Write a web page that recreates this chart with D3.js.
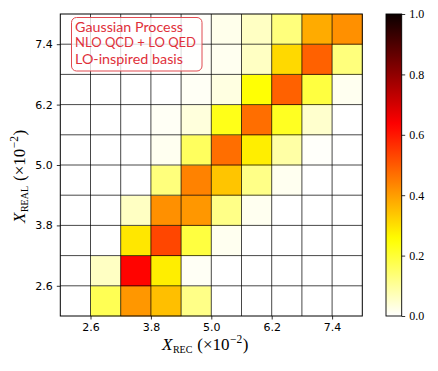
<!DOCTYPE html>
<html><head><meta charset="utf-8">
<script src="https://cdn.jsdelivr.net/npm/d3@7"></script>
<style>
html,body{margin:0;padding:0;background:#fff;}
svg{display:block;}
</style></head>
<body>
<svg id="chart" width="438" height="371"></svg>
<script>
// ---- data ----
const binEdges = [2.0, 2.6, 3.2, 3.8, 4.4, 5.0, 5.6, 6.2, 6.8, 7.4, 8.0];
const xTicks = [2.6, 3.8, 5.0, 6.2, 7.4];
const yTicks = [2.6, 3.8, 5.0, 6.2, 7.4];
const cbTicks = [0.0, 0.2, 0.4, 0.6, 0.8, 1.0];
// rows listed from the bottom bin (X_REAL 2.0-2.6) up to the top bin (7.4-8.0); columns are X_REC bins
const row0 = [0, 0.17, 0.41, 0.35, 0.12, 0, 0, 0, 0, 0];
const row1 = [0, 0.06, 0.63, 0.28, 0.01, 0, 0, 0, 0, 0];
const row2 = [0, 0, 0.29, 0.53, 0.19, 0.015, 0, 0, 0, 0];
const row3 = [0, 0, 0.06, 0.42, 0.41, 0.12, 0.015, 0, 0, 0];
const row4 = [0, 0, 0, 0.13, 0.44, 0.34, 0.12, 0.015, 0, 0];
const row5 = [0, 0, 0, 0.015, 0.16, 0.47, 0.28, 0.09, 0.005, 0];
const row6 = [0, 0, 0, 0.01, 0.035, 0.23, 0.47, 0.22, 0.05, 0];
const row7 = [0, 0, 0, 0, 0.01, 0.03, 0.25, 0.49, 0.19, 0.015];
const row8 = [0, 0, 0, 0, 0.008, 0.015, 0.06, 0.31, 0.49, 0.13];
const row9 = [0, 0, 0, 0, 0.004, 0.02, 0.06, 0.13, 0.38, 0.42];
const matrix = [row0, row1, row2, row3, row4, row5, row6, row7, row8, row9];
const legendLines = ["Gaussian Process", "NLO QCD + LO QED", "LO-inspired basis"];

// ---- colormap (matplotlib hot_r) ----
function hotR(v) {
  const t = 1 - Math.max(0, Math.min(1, v));
  const a = 0.365079, b2 = 0.746032;
  const r = t < a ? 0.0416 + (1 - 0.0416) * t / a : 1;
  const g = t < a ? 0 : (t < b2 ? (t - a) / (b2 - a) : 1);
  const b = t < b2 ? 0 : (t - b2) / (1 - b2);
  return d3.rgb(r * 255, g * 255, b * 255).formatHex();
}

const svg = d3.select("#chart");
const L = 60.3, R = 362.3, T = 14, B = 316;
const x = d3.scaleLinear().domain([2.0, 8.0]).range([L, R]);
const y = d3.scaleLinear().domain([2.0, 8.0]).range([B, T]);

// cells
const cells = [];
matrix.forEach((row, i) => row.forEach((v, j) => cells.push({i, j, v})));
svg.append("g").selectAll("rect").data(cells).join("rect")
  .attr("x", d => x(binEdges[d.j]))
  .attr("y", d => y(binEdges[d.i + 1]))
  .attr("width", d => x(binEdges[d.j + 1]) - x(binEdges[d.j]) + 0.4)
  .attr("height", d => y(binEdges[d.i]) - y(binEdges[d.i + 1]) + 0.4)
  .attr("fill", d => hotR(d.v));

// grid lines
const grid = svg.append("g").attr("stroke", "#000").attr("stroke-opacity", 0.8).attr("stroke-width", 0.9);
binEdges.slice(1, -1).forEach(e => {
  grid.append("line").attr("x1", x(e)).attr("x2", x(e)).attr("y1", T).attr("y2", B);
  grid.append("line").attr("y1", y(e)).attr("y2", y(e)).attr("x1", L).attr("x2", R);
});

// axes
const xAxis = svg.append("g").attr("transform", `translate(0,${B})`)
  .call(d3.axisBottom(x).tickValues(xTicks).tickFormat(d3.format(".1f")).tickSize(3.5).tickPadding(4));
const yAxis = svg.append("g").attr("transform", `translate(${L},0)`)
  .call(d3.axisLeft(y).tickValues(yTicks).tickFormat(d3.format(".1f")).tickSize(3.5).tickPadding(4));
[xAxis, yAxis].forEach(a => {
  a.select(".domain").remove();
  a.selectAll("line").attr("stroke", "#000").attr("stroke-width", 0.8);
  a.selectAll("text").attr("font-family", "DejaVu Sans").attr("font-size", 11).attr("fill", "#000");
});
// frame
svg.append("rect").attr("x", L).attr("y", T).attr("width", R - L).attr("height", B - T)
  .attr("fill", "none").attr("stroke", "#000").attr("stroke-width", 1);

// legend box
const lg = svg.append("g");
lg.append("rect").attr("x", 71.5).attr("y", 17.5).attr("width", 130.5).attr("height", 53.5).attr("rx", 5)
  .attr("fill", "#fff").attr("fill-opacity", 0.8).attr("stroke", "#e04a50").attr("stroke-width", 1);
const lgSizes = [14, 12.5, 14];
const lgBase = [32.3, 47.3, 64.3];
const lgWidths = [108, 121, 108];
legendLines.forEach((s, k) => {
  lg.append("text").attr("x", 75).attr("y", lgBase[k]).text(s)
    .attr("font-family", "Lato").attr("font-size", lgSizes[k]).attr("fill", "#e0303a")
    .attr("textLength", lgWidths[k]).attr("lengthAdjust", "spacingAndGlyphs");
});

// axis labels
const serif = "Liberation Serif";
function mathLabel(sel, sub) {
  sel.append("tspan").attr("font-style", "italic").text("X");
  sel.append("tspan").attr("font-size", 10).attr("dy", 3).attr("dx", 0.5).text(sub);
  sel.append("tspan").attr("dy", -3).attr("dx", 5).text("(×10");
  sel.append("tspan").attr("font-size", 11.5).attr("dy", -7).attr("dx", 0.5).text("−2");
  sel.append("tspan").attr("dy", 7).attr("dx", 0.5).text(")");
}
const xl = svg.append("text").attr("x", 162).attr("y", 350).attr("font-family", serif).attr("font-size", 17).attr("fill", "#000");
mathLabel(xl, "REC");
const yl = svg.append("text").attr("transform", "translate(25,223) rotate(-90)")
  .attr("font-family", serif).attr("font-size", 17).attr("fill", "#000");
mathLabel(yl, "REAL");

// colorbar
const cbL = 386, cbW = 15.7;
const cy = d3.scaleLinear().domain([0, 1]).range([B, T]);
const defs = svg.append("defs");
const grad = defs.append("linearGradient").attr("id", "cbg").attr("x1", 0).attr("y1", 1).attr("x2", 0).attr("y2", 0);
d3.range(0, 1.0001, 0.02).forEach(s => grad.append("stop").attr("offset", s).attr("stop-color", hotR(s)));
svg.append("rect").attr("x", cbL).attr("y", T).attr("width", cbW).attr("height", B - T).attr("fill", "url(#cbg)")
  .attr("stroke", "#000").attr("stroke-width", 0.9);
const cAxis = svg.append("g").attr("transform", `translate(${cbL + cbW},0)`)
  .call(d3.axisRight(cy).tickValues(cbTicks).tickFormat(d3.format(".1f")).tickSize(3.5).tickPadding(4));
cAxis.select(".domain").remove();
cAxis.selectAll("line").attr("stroke", "#000").attr("stroke-width", 0.8);
cAxis.selectAll("text").attr("font-family", serif).attr("font-size", 12).attr("fill", "#000");
</script>
</body></html>
